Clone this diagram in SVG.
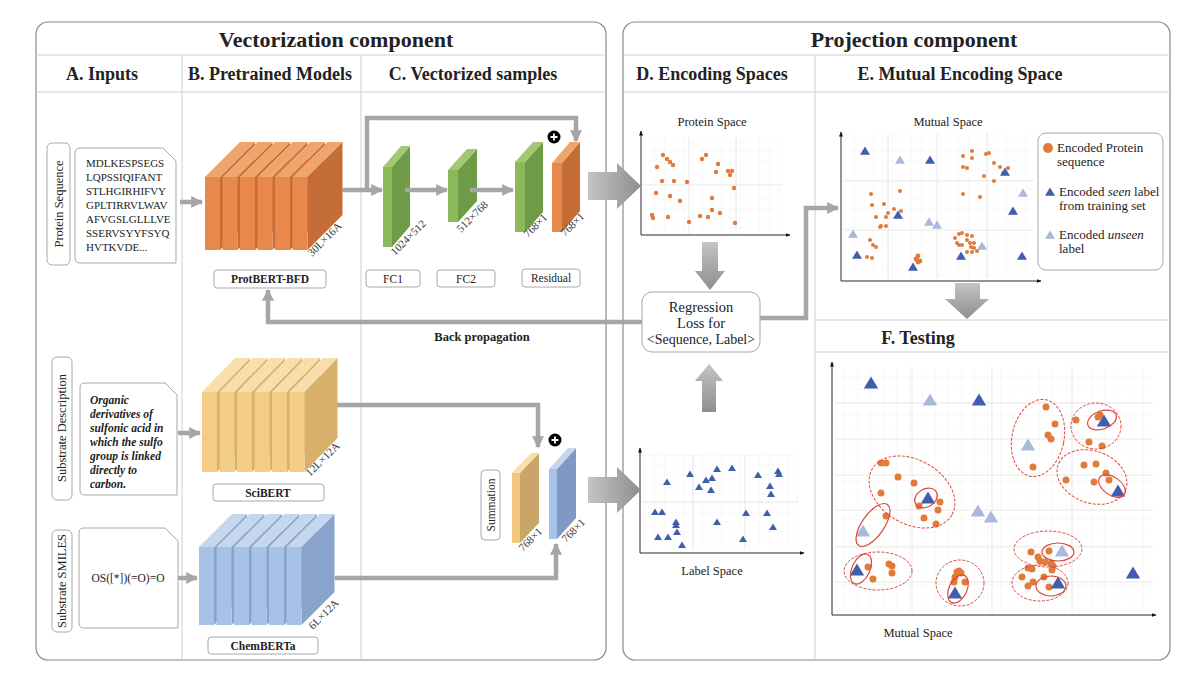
<svg xmlns="http://www.w3.org/2000/svg" width="1200" height="680" viewBox="0 0 1200 680">
<style>
text{font-family:"Liberation Serif","DejaVu Serif",serif;fill:#222}
.ttl{font-size:22px;font-weight:bold;text-anchor:middle}
.hd{font-size:18px;font-weight:bold;text-anchor:middle}
.lbl{font-size:11.5px;text-anchor:middle}
.dim{font-size:11px;fill:#333}
.seq{font-size:11px}
.pt{font-size:12.5px;text-anchor:middle}
.lg{font-size:13px}
.panel{fill:#fff;stroke:#8a8a8a;stroke-width:1.2}
.div{stroke:#cfcfcf;stroke-width:1;fill:none}
.box{fill:#fff;stroke:#a8a8a8;stroke-width:1}
.gl{fill:none;stroke:#a6a6a6;stroke-width:4.5}
.ax{stroke:#111;stroke-width:0.9;fill:none}
.dot{fill:#E07B39}
.dk{fill:#3F5FAD}
.lt{fill:#A9B9DA}
.ed{fill:none;stroke:#E0473B;stroke-width:1;stroke-dasharray:3 1.5}
.es{fill:none;stroke:#E0473B;stroke-width:1.2}
.maj{stroke:#e2e2e2;stroke-width:0.8}
</style>
<defs>
<marker id="ga" viewBox="0 0 10 10" refX="9" refY="5" markerWidth="12" markerHeight="12" markerUnits="userSpaceOnUse" orient="auto"><path d="M0,0 L10,5 L0,10 Z" fill="#a6a6a6"/></marker>
<marker id="axa" viewBox="0 0 10 10" refX="9" refY="5" markerWidth="5" markerHeight="5" markerUnits="userSpaceOnUse" orient="auto"><path d="M0,1 L10,5 L0,9 Z" fill="#111"/></marker>
<linearGradient id="garr" x1="0" y1="0" x2="0" y2="1"><stop offset="0" stop-color="#c4c4c4"/><stop offset="1" stop-color="#8e8e8e"/></linearGradient>
<linearGradient id="garrh" x1="0" y1="0" x2="1" y2="0"><stop offset="0" stop-color="#c4c4c4"/><stop offset="1" stop-color="#8e8e8e"/></linearGradient>
<pattern id="gs" width="9.5" height="9.5" patternUnits="userSpaceOnUse"><path d="M9.5,0 V9.5 H0" fill="none" stroke="#efefef" stroke-width="0.7"/></pattern>
<pattern id="gl2" width="13" height="13" patternUnits="userSpaceOnUse"><path d="M13,0 V13 H0" fill="none" stroke="#f0f0f0" stroke-width="0.8"/></pattern>
<path id="tS" d="M0,-3.6 L4,3 L-4,3 Z"/>
<path id="tM" d="M0,-4.5 L5,3.8 L-5,3.8 Z"/>
<path id="tL" d="M0,-6.5 L7.2,5.5 L-7.2,5.5 Z"/>
<g id="slO"><polygon points="15,0 50,-35 50,38 15,73" fill="#C56D36"/><polygon points="0,0 15,0 50,-35 35,-35" fill="#F0A56C"/><rect x="0" y="0" width="15" height="73" fill="#E8884A"/></g>
<g id="slY"><polygon points="15,0 48,-34 48,46 15,80" fill="#D7B06C"/><polygon points="0,0 15,0 48,-34 33,-34" fill="#F8DEAA"/><rect x="0" y="0" width="15" height="80" fill="#F3CC85"/></g>
<g id="slB"><polygon points="15,0 48,-33 48,45 15,78" fill="#8AA3CB"/><polygon points="0,0 15,0 48,-33 33,-33" fill="#C5D6EF"/><rect x="0" y="0" width="15" height="78" fill="#A8C1E6"/></g>
</defs>
<rect width="1200" height="680" fill="#fff"/>

<!-- panels -->
<g id="panel-vectorization">
<rect class="panel" x="36" y="22" width="570" height="638" rx="12"/>
<line class="div" x1="36" y1="55" x2="606" y2="55"/>
<line class="div" x1="36" y1="92" x2="606" y2="92"/>
<line class="div" x1="182" y1="55" x2="182" y2="660"/>
<line class="div" x1="361" y1="55" x2="361" y2="660"/>
<text class="ttl" x="336" y="47">Vectorization component</text>
<text class="hd" x="102" y="80">A. Inputs</text>
<text class="hd" x="270" y="80">B. Pretrained Models</text>
<text class="hd" x="473" y="80">C. Vectorized samples</text>
</g>
<g id="panel-projection">
<rect class="panel" x="623" y="22" width="547" height="638" rx="12"/>
<line class="div" x1="623" y1="55" x2="1170" y2="55"/>
<line class="div" x1="623" y1="92" x2="1170" y2="92"/>
<line class="div" x1="815" y1="55" x2="815" y2="660"/>
<line class="div" x1="815" y1="320" x2="1170" y2="320"/>
<line class="div" x1="815" y1="352" x2="1170" y2="352"/>
<text class="ttl" x="914" y="47">Projection component</text>
<text class="hd" x="712" y="80">D. Encoding Spaces</text>
<text class="hd" x="960" y="80">E. Mutual Encoding Space</text>
<text class="hd" x="918" y="344">F. Testing</text>
</g>

<!-- inputs -->
<g id="input-protein">
<rect class="box" x="47" y="143" width="23" height="122" rx="5"/>
<text class="pt" font-size="13" transform="translate(63,204) rotate(-90)">Protein Sequence</text>
<path class="box" d="M80,148 H163 L176,161 V263 H80 Q75,263 75,258 V153 Q75,148 80,148 Z"/>
<g class="seq"><text x="86" y="167" class="seq">MDLKESPSEGS</text><text x="86" y="181" class="seq">LQPSSIQIFANT</text><text x="86" y="195" class="seq">STLHGIRHIFVY</text><text x="86" y="209" class="seq">GPLTIRRVLWAV</text><text x="86" y="223" class="seq">AFVGSLGLLLVE</text><text x="86" y="237" class="seq">SSERVSYYFSYQ</text><text x="86" y="251" class="seq">HVTKVDE...</text></g>
</g>
<g id="input-description">
<rect class="box" x="52" y="357" width="20" height="143" rx="5"/>
<text class="pt" font-size="13.5" transform="translate(66,428) rotate(-90)">Substrate Description</text>
<path class="box" d="M85,383 H165 L177,395 V495 H85 Q80,495 80,490 V388 Q80,383 85,383 Z"/>
<g font-style="italic" font-weight="bold" font-size="11.5"><text x="90" y="404">Organic</text><text x="90" y="418">derivatives of</text><text x="90" y="432">sulfonic acid in</text><text x="90" y="446">which the sulfo</text><text x="90" y="460">group is linked</text><text x="90" y="474">directly to</text><text x="90" y="488">carbon.</text></g>
</g>
<g id="input-smiles">
<rect class="box" x="52" y="530" width="20" height="102" rx="5"/>
<text class="pt" font-size="13" transform="translate(66,581) rotate(-90)">Substrate SMILES</text>
<path class="box" d="M84,528 H165 L178,541 V628 H84 Q79,628 79,623 V533 Q79,528 84,528 Z"/>
<text x="128" y="582" font-size="11.5" text-anchor="middle">OS([*])(=O)=O</text>
</g>

<!-- pretrained models -->
<g id="model-protbert">
<use href="#slO" x="205" y="177"/><use href="#slO" x="222.5" y="177"/><use href="#slO" x="240" y="177"/><use href="#slO" x="257.5" y="177"/><use href="#slO" x="275" y="177"/><use href="#slO" x="292.5" y="177"/>
<text class="dim" transform="translate(312,257) rotate(-45)">30L×16A</text>
<rect class="box" x="214" y="270" width="112" height="18" rx="3"/>
<text class="lbl" x="270" y="283" font-weight="bold" font-size="11">ProtBERT-BFD</text>
</g>
<g id="model-scibert">
<use href="#slY" x="202" y="392"/><use href="#slY" x="219.5" y="392"/><use href="#slY" x="237" y="392"/><use href="#slY" x="254.5" y="392"/><use href="#slY" x="272" y="392"/><use href="#slY" x="289.5" y="392"/>
<text class="dim" transform="translate(310,477) rotate(-45)">12L×12A</text>
<rect class="box" x="213" y="484" width="111" height="17" rx="3"/>
<text class="lbl" x="268" y="496.5" font-weight="bold" font-size="11">SciBERT</text>
</g>
<g id="model-chemberta">
<use href="#slB" x="199" y="547"/><use href="#slB" x="216.5" y="547"/><use href="#slB" x="234" y="547"/><use href="#slB" x="251.5" y="547"/><use href="#slB" x="269" y="547"/><use href="#slB" x="286.5" y="547"/>
<text class="dim" transform="translate(313,630) rotate(-45)">6L×12A</text>
<rect class="box" x="208" y="637" width="110" height="17" rx="3"/>
<text class="lbl" x="263" y="649.5" font-weight="bold" font-size="11">ChemBERTa</text>
</g>

<!-- vectorized samples -->
<g id="fc1">
<polygon points="392,167 410,146 410,226 392,247" fill="#6E9B45"/><polygon points="383,167 392,167 410,146 401,146" fill="#A2C873"/><rect x="383" y="167" width="9" height="80" fill="#8CB85C"/>
<text class="dim" transform="translate(395,256) rotate(-45)">1024×512</text>
<rect class="box" x="366" y="270" width="54" height="17" rx="3"/><text class="lbl" x="393" y="282.5">FC1</text>
</g>
<g id="fc2">
<polygon points="458,170 477,149 477,201 458,222" fill="#6E9B45"/><polygon points="448,170 458,170 477,149 467,149" fill="#A2C873"/><rect x="448" y="170" width="10" height="52" fill="#8CB85C"/>
<text class="dim" transform="translate(461,233) rotate(-45)">512×768</text>
<rect class="box" x="437" y="270" width="58" height="17" rx="3"/><text class="lbl" x="466" y="282.5">FC2</text>
</g>
<g id="residual">
<polygon points="525,162 543,142 543,212 525,232" fill="#6E9B45"/><polygon points="515,162 525,162 543,142 533,142" fill="#A2C873"/><rect x="515" y="162" width="10" height="70" fill="#8CB85C"/>
<text class="dim" transform="translate(528,238) rotate(-45)">768×1</text>
<polygon points="562,163 580,142 580,211 562,232" fill="#C56D36"/><polygon points="552,163 562,163 580,142 570,142" fill="#F0A56C"/><rect x="552" y="163" width="10" height="69" fill="#E8884A"/>
<text class="dim" transform="translate(565,237) rotate(-45)">768×1</text>
<circle cx="554" cy="137" r="6.5" fill="#000"/><path d="M550.5,137 H557.5 M554,133.5 V140.5" stroke="#fff" stroke-width="1.8"/>
<rect class="box" x="522" y="269" width="58" height="18" rx="3"/><text class="lbl" x="551" y="282">Residual</text>
</g>
<g id="summation">
<rect class="box" x="481" y="470" width="19" height="70" rx="4"/>
<text class="lbl" font-size="12.5" transform="translate(494.5,505) rotate(-90)">Summation</text>
<polygon points="520,473 539,453 539,523 520,543" fill="#C9A56A"/><polygon points="512,473 520,473 539,453 531,453" fill="#F8DEAA"/><rect x="512" y="473" width="8" height="70" fill="#F2C87E"/>
<text class="dim" transform="translate(523,552) rotate(-45)">768×1</text>
<polygon points="557,469 576,448 576,518 557,539" fill="#7E9AC4"/><polygon points="549,469 557,469 576,448 568,448" fill="#C5D6EF"/><rect x="549" y="469" width="8" height="70" fill="#A8C3E8"/>
<text class="dim" transform="translate(566,543) rotate(-45)">768×1</text>
<circle cx="555" cy="440" r="6.5" fill="#000"/><path d="M551.5,440 H558.5 M555,436.5 V443.5" stroke="#fff" stroke-width="1.8"/>
</g>

<!-- encoding spaces -->
<g id="protein-space">
<text class="pt" x="712" y="126">Protein Space</text>
<rect x="642" y="137" width="141" height="97" fill="url(#gs)"/>
<path class="maj" d="M689,137 V234 M736,137 V234 M642,185 H783"/>
<path class="ax" d="M641,235 V131" marker-end="url(#axa)"/><path class="ax" d="M641,235 H790" marker-end="url(#axa)"/>
<g class="dot"><circle cx="663" cy="155" r="2.2"/><circle cx="667" cy="159" r="2.2"/><circle cx="670" cy="162" r="2.2"/><circle cx="673" cy="165" r="2.2"/><circle cx="657" cy="167" r="2.2"/><circle cx="702" cy="159" r="2.2"/><circle cx="706" cy="155" r="2.2"/><circle cx="718" cy="164" r="2.2"/><circle cx="716" cy="172" r="2.2"/><circle cx="728" cy="171" r="2.2"/><circle cx="732" cy="171" r="2.2"/><circle cx="730" cy="175" r="2.2"/><circle cx="662" cy="181" r="2.2"/><circle cx="674" cy="181" r="2.2"/><circle cx="687" cy="182" r="2.2"/><circle cx="734" cy="188" r="2.2"/><circle cx="656" cy="193" r="2.2"/><circle cx="670" cy="196" r="2.2"/><circle cx="680" cy="201" r="2.2"/><circle cx="712" cy="198" r="2.2"/><circle cx="712" cy="210" r="2.2"/><circle cx="720" cy="213" r="2.2"/><circle cx="652" cy="215" r="2.2"/><circle cx="653" cy="218" r="2.2"/><circle cx="668" cy="217" r="2.2"/><circle cx="700" cy="216" r="2.2"/><circle cx="708" cy="217" r="2.2"/><circle cx="689" cy="222" r="2.2"/><circle cx="735" cy="223" r="2.2"/></g>
</g>
<g id="regression-loss">
<rect class="box" x="642" y="292" width="118" height="60" rx="10"/>
<text x="701" y="312" font-size="14.5" text-anchor="middle">Regression</text>
<text x="701" y="328" font-size="14.5" text-anchor="middle">Loss for</text>
<text x="701" y="344" font-size="14" text-anchor="middle">&lt;Sequence, Label&gt;</text>
</g>
<g id="label-space">
<rect x="642" y="455" width="156" height="95" fill="url(#gs)"/>
<path class="maj" d="M693,455 V550 M745,455 V550 M642,502 H798"/>
<path class="ax" d="M640,553 V448" marker-end="url(#axa)"/><path class="ax" d="M640,553 H804" marker-end="url(#axa)"/>
<text class="pt" x="712" y="575" font-size="13">Label Space</text>
<g class="dk"><use href="#tS" x="667" y="482"/><use href="#tS" x="690" y="474"/><use href="#tS" x="717" y="469"/><use href="#tS" x="732" y="468"/><use href="#tS" x="706" y="480"/><use href="#tS" x="712" y="478"/><use href="#tS" x="699" y="487"/><use href="#tS" x="711" y="490"/><use href="#tS" x="758" y="475"/><use href="#tS" x="778" y="471"/><use href="#tS" x="779" y="474"/><use href="#tS" x="770" y="486"/><use href="#tS" x="771" y="494"/><use href="#tS" x="655" y="512"/><use href="#tS" x="662" y="512"/><use href="#tS" x="676" y="522"/><use href="#tS" x="676" y="525"/><use href="#tS" x="717" y="522"/><use href="#tS" x="746" y="513"/><use href="#tS" x="767" y="513"/><use href="#tS" x="773" y="527"/><use href="#tS" x="658" y="537"/><use href="#tS" x="668" y="537"/><use href="#tS" x="677" y="532"/><use href="#tS" x="682" y="545"/><use href="#tS" x="743" y="539"/></g>
</g>

<!-- mutual space -->
<g id="mutual-space">
<text class="pt" x="948" y="126" font-size="14">Mutual Space</text>
<rect x="843" y="133" width="191" height="146" fill="url(#gs)"/>
<path class="maj" d="M888,133 V279 M937,133 V279 M987,133 V279 M843,181 H1034 M843,230 H1034"/>
<path class="ax" d="M841,281 V132" marker-end="url(#axa)"/><path class="ax" d="M841,281 H1041" marker-end="url(#axa)"/>
<g class="dot"><circle cx="972" cy="151" r="2"/><circle cx="963" cy="156" r="2"/><circle cx="972" cy="158" r="2"/><circle cx="986" cy="154" r="2"/><circle cx="989" cy="153" r="2"/><circle cx="963" cy="167" r="2"/><circle cx="967" cy="168" r="2"/><circle cx="994" cy="163" r="2"/><circle cx="1000" cy="167" r="2"/><circle cx="1008" cy="168" r="2"/><circle cx="1003" cy="173" r="2"/><circle cx="984" cy="176" r="2"/><circle cx="994" cy="181" r="2"/><circle cx="963" cy="194" r="2"/><circle cx="980" cy="197" r="2"/><circle cx="871" cy="194" r="2"/><circle cx="900" cy="191" r="2"/><circle cx="872" cy="205" r="2"/><circle cx="884" cy="204" r="2"/><circle cx="894" cy="209" r="2"/><circle cx="888" cy="213" r="2"/><circle cx="901" cy="211" r="2"/><circle cx="876" cy="217" r="2"/><circle cx="886" cy="217" r="2"/><circle cx="881" cy="226" r="2"/><circle cx="886" cy="226" r="2"/><circle cx="880" cy="227" r="2"/><circle cx="870" cy="240" r="2"/><circle cx="873" cy="245" r="2"/><circle cx="876" cy="247" r="2"/><circle cx="867" cy="257" r="2"/><circle cx="872" cy="258" r="2"/><circle cx="918" cy="256" r="2.4"/><circle cx="918" cy="262" r="2.4"/><circle cx="920" cy="261" r="2.4"/><circle cx="916" cy="259" r="2.4"/><circle cx="955" cy="238" r="2"/><circle cx="959" cy="234" r="2"/><circle cx="962" cy="233" r="2"/><circle cx="967" cy="235" r="2"/><circle cx="972" cy="236" r="2"/><circle cx="967" cy="240" r="2"/><circle cx="957" cy="243" r="2"/><circle cx="959" cy="245" r="2"/><circle cx="962" cy="245" r="2"/><circle cx="970" cy="243" r="2"/><circle cx="974" cy="243" r="2"/><circle cx="971" cy="247" r="2"/><circle cx="974" cy="248" r="2"/><circle cx="977" cy="251" r="2"/><circle cx="972" cy="252" r="2"/><circle cx="967" cy="252" r="2"/></g>
<g class="dk"><use href="#tM" x="865" y="151"/><use href="#tM" x="930" y="160"/><use href="#tM" x="898" y="215"/><use href="#tM" x="1005" y="172"/><use href="#tM" x="1013" y="211"/><use href="#tM" x="857" y="255"/><use href="#tM" x="913" y="267"/><use href="#tM" x="961" y="256"/><use href="#tM" x="1022" y="256"/></g>
<g class="lt"><use href="#tM" x="900" y="160"/><use href="#tM" x="1023" y="193"/><use href="#tM" x="929" y="222"/><use href="#tM" x="937" y="225"/><use href="#tM" x="853" y="234"/><use href="#tM" x="982" y="246"/></g>
</g>
<g id="legend">
<rect class="box" x="1038" y="133" width="125" height="137" rx="8" stroke="#999"/>
<circle cx="1048" cy="148" r="5" class="dot"/>
<text class="lg" x="1057" y="152">Encoded Protein</text><text class="lg" x="1057" y="166">sequence</text>
<use href="#tM" x="1050" y="192" class="dk"/>
<text class="lg" x="1059" y="196">Encoded <tspan font-style="italic">seen</tspan> label</text><text class="lg" x="1059" y="210">from training set</text>
<use href="#tM" x="1050" y="235" class="lt"/>
<text class="lg" x="1059" y="239">Encoded <tspan font-style="italic">unseen</tspan></text><text class="lg" x="1059" y="253">label</text>
</g>

<!-- testing -->
<g id="testing">
<rect x="835" y="367" width="318" height="245" fill="url(#gl2)"/>
<path class="maj" d="M912,367 V612 M992,367 V612 M1072,367 V612 M835,403 H1153 M835,439 H1153 M835,475 H1153 M835,510 H1153 M835,547 H1153 M835,582 H1153"/>
<path class="ax" d="M832,615 V362" marker-end="url(#axa)"/><path class="ax" d="M832,615 H1156" marker-end="url(#axa)"/>
<text class="pt" x="918" y="637" font-size="14">Mutual Space</text>
<g class="dot"><circle cx="1046" cy="407" r="3.5"/><circle cx="1055" cy="424" r="3.5"/><circle cx="1048" cy="435" r="3.5"/><circle cx="1051" cy="439" r="3.5"/><circle cx="1033" cy="467" r="3.5"/><circle cx="1076" cy="420" r="3.5"/><circle cx="1098" cy="417" r="3.5"/><circle cx="1100" cy="415" r="3.5"/><circle cx="1089" cy="442" r="3.5"/><circle cx="1102" cy="446" r="3.5"/><circle cx="1084" cy="465" r="3.5"/><circle cx="1096" cy="464" r="3.5"/><circle cx="1106" cy="473" r="3.5"/><circle cx="1109" cy="480" r="3.5"/><circle cx="1094" cy="482" r="3.5"/><circle cx="1066" cy="480" r="3.5"/><circle cx="881" cy="463" r="3.5"/><circle cx="886" cy="463" r="3.5"/><circle cx="898" cy="477" r="3.5"/><circle cx="914" cy="483" r="3.5"/><circle cx="881" cy="493" r="3.5"/><circle cx="919" cy="506" r="3.5"/><circle cx="940" cy="502" r="3.5"/><circle cx="938" cy="510" r="3.5"/><circle cx="924" cy="518" r="3.5"/><circle cx="936" cy="524" r="3.5"/><circle cx="886" cy="516" r="3.5"/><circle cx="868" cy="567" r="3.5"/><circle cx="873" cy="579" r="3.5"/><circle cx="889" cy="564" r="3.5"/><circle cx="892" cy="566" r="3.5"/><circle cx="892" cy="573" r="3.5"/><circle cx="957" cy="572" r="3.5"/><circle cx="959" cy="571" r="3.5"/><circle cx="961" cy="573" r="3.5"/><circle cx="955" cy="577" r="3.5"/><circle cx="954" cy="582" r="3.5"/><circle cx="965" cy="582" r="3.5"/><circle cx="1031" cy="552" r="3.5"/><circle cx="1038" cy="557" r="3.5"/><circle cx="1049" cy="551" r="3.5"/><circle cx="1040" cy="561" r="3.5"/><circle cx="1045" cy="562" r="3.5"/><circle cx="1051" cy="563" r="3.5"/><circle cx="1053" cy="566" r="3.5"/><circle cx="1028" cy="568" r="3.5"/><circle cx="1032" cy="569" r="3.5"/><circle cx="1052" cy="570" r="3.5"/><circle cx="1022" cy="577" r="3.5"/><circle cx="1044" cy="577" r="3.5"/><circle cx="1033" cy="582" r="3.5"/><circle cx="1028" cy="586" r="3.5"/><circle cx="1049" cy="587" r="3.5"/></g>
<g class="dk"><use href="#tL" x="871" y="383"/><use href="#tL" x="979" y="400"/><use href="#tL" x="1104" y="421"/><use href="#tL" x="928" y="498"/><use href="#tL" x="1118" y="491"/><use href="#tL" x="857" y="570"/><use href="#tL" x="955" y="593"/><use href="#tL" x="1058" y="583"/><use href="#tL" x="1133" y="573"/></g>
<g class="lt"><use href="#tL" x="930" y="400"/><use href="#tL" x="1028" y="445"/><use href="#tL" x="978" y="511"/><use href="#tL" x="991" y="517"/><use href="#tL" x="863" y="531"/><use href="#tL" x="1062" y="551"/></g>
<ellipse class="ed" cx="1038" cy="438" rx="26" ry="39" transform="rotate(12 1038 438)"/>
<ellipse class="ed" cx="1096" cy="426" rx="25" ry="23"/>
<ellipse class="es" cx="1102" cy="420" rx="15" ry="9" transform="rotate(-20 1102 420)"/>
<ellipse class="ed" cx="1092" cy="477" rx="36" ry="26" transform="rotate(20 1092 477)"/>
<ellipse class="es" cx="1112" cy="486" rx="15" ry="9" transform="rotate(35 1112 486)"/>
<ellipse class="ed" cx="912" cy="492" rx="46" ry="32" transform="rotate(30 912 492)"/>
<ellipse class="es" cx="926" cy="498" rx="12" ry="9" transform="rotate(-30 926 498)"/>
<ellipse class="es" cx="873" cy="525" rx="11" ry="25" transform="rotate(35 873 525)"/>
<ellipse class="ed" cx="878" cy="571" rx="34" ry="19"/>
<ellipse class="es" cx="861" cy="569" rx="9" ry="16" transform="rotate(25 861 569)"/>
<ellipse class="ed" cx="960" cy="583" rx="24" ry="23"/>
<ellipse class="es" cx="958" cy="589" rx="9" ry="15" transform="rotate(25 958 589)"/>
<ellipse class="ed" cx="1048" cy="549" rx="34" ry="18"/>
<ellipse class="es" cx="1058" cy="552" rx="16" ry="9"/>
<ellipse class="ed" cx="1040" cy="583" rx="28" ry="18"/>
<ellipse class="es" cx="1051" cy="586" rx="15" ry="10"/>
</g>

<!-- connectors -->
<g id="connectors">
<path class="gl" d="M180,202 H202" marker-end="url(#ga)"/>
<path class="gl" d="M178,433 H200" marker-end="url(#ga)"/>
<path class="gl" d="M178,578 H197" marker-end="url(#ga)"/>
<path class="gl" d="M342,190 H382" marker-end="url(#ga)"/>
<path class="gl" d="M367,190 V118 H576 V141" marker-end="url(#ga)"/>
<path class="gl" d="M405,190 H447" marker-end="url(#ga)"/>
<path class="gl" d="M470,190 H513" marker-end="url(#ga)"/>
<path class="gl" d="M337,405 H538 V447" marker-end="url(#ga)"/>
<path class="gl" d="M335,578 H556 V544" marker-end="url(#ga)"/>
<path class="gl" d="M642,322 H268 V290" marker-end="url(#ga)"/>
<text x="482" y="341" font-size="12.5" text-anchor="middle" font-weight="bold" fill="#444">Back propagation</text>
<path class="gl" d="M760,318 H806 V208 H838" stroke-width="5.5" marker-end="url(#ga)"/>
<path d="M588,172 H617 V163 L641,186 L617,209 V200 H588 Z" fill="url(#garrh)"/>
<path d="M588,477 H617 V467 L641,490 L617,513 V503 H588 Z" fill="url(#garrh)"/>
<path d="M702,242 H718 V271 H725 L710,290 L695,271 H702 Z" fill="url(#garr)"/>
<path d="M702,412 H716 V381 H723 L709,364 L695,381 H702 Z" fill="url(#garr)"/>
<path d="M955,283 H980 V299 H989 L967,319 L945,299 H955 Z" fill="url(#garr)"/>
</g>
</svg>
